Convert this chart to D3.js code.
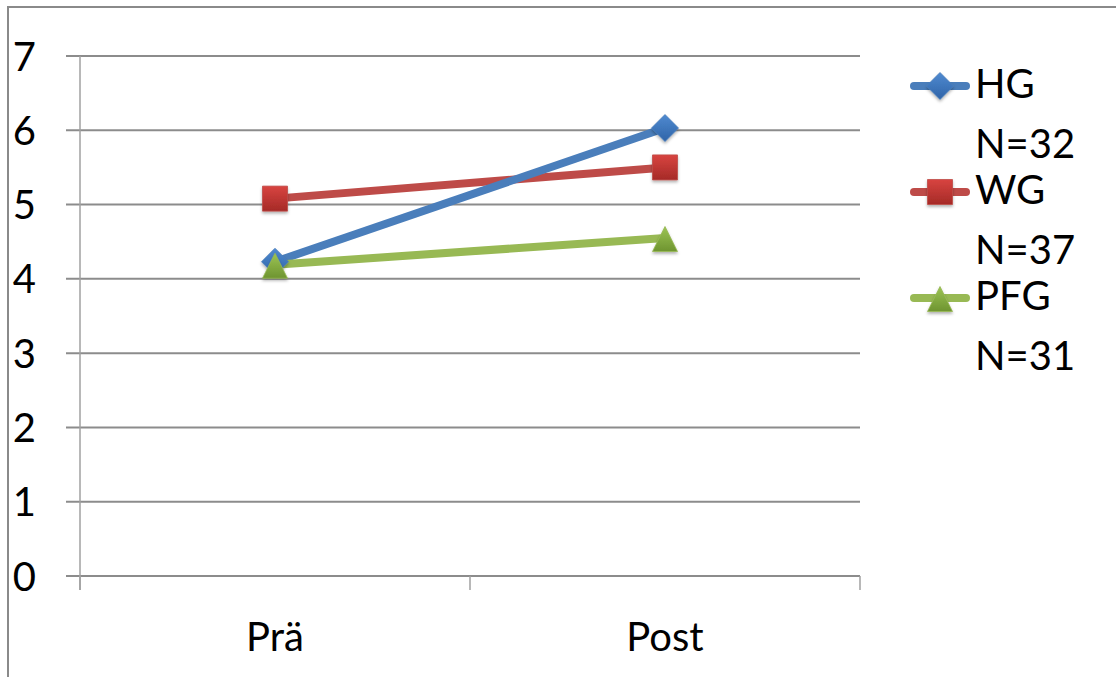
<!DOCTYPE html>
<html>
<head>
<meta charset="utf-8">
<script src="https://cdn.jsdelivr.net/npm/d3@7"></script>
<style>
  html, body { margin: 0; padding: 0; background: #fff; }
  svg { display: block; }
  text { font-family: Lato, "Open Sans", sans-serif; fill: #000; }
</style>
</head>
<body>
<svg id="chart" width="1116" height="677"></svg>
<script>
// Mean scores before and after, per group
const categories = ["Prä", "Post"];
const seriesNames = ["HG", "WG", "PFG"];
const seriesCounts = ["N=32", "N=37", "N=31"];
const hgValues = [4.23, 6.03];
const wgValues = [5.08, 5.50];
const pfgValues = [4.19, 4.55];
const yTicks = [0, 1, 2, 3, 4, 5, 6, 7];

// Marker shapes; size is the box edge in px
const diamond = { draw(ctx, s) { const r = s / 2; ctx.moveTo(0, -r); ctx.lineTo(r, 0); ctx.lineTo(0, r); ctx.lineTo(-r, 0); ctx.closePath(); } };
const square = { draw(ctx, s) { const r = s / 2; ctx.rect(-r, -r, s, s); } };
const triangle = { draw(ctx, s) { const r = s / 2; ctx.moveTo(0, -r); ctx.lineTo(r, r); ctx.lineTo(-r, r); ctx.closePath(); } };

const series = [
  { name: seriesNames[0], n: seriesCounts[0], values: hgValues, line: "#4a7ebb", light: "#4f8ad0", dark: "#2f64a8", shape: diamond, size: 27 },
  { name: seriesNames[1], n: seriesCounts[1], values: wgValues, line: "#be4b48", light: "#d84440", dark: "#a52a27", shape: square, size: 25 },
  { name: seriesNames[2], n: seriesCounts[2], values: pfgValues, line: "#98b954", light: "#9cc454", dark: "#6e9430", shape: triangle, size: 25 }
];

const svg = d3.select("#chart");
const plot = { left: 80, right: 860, top: 56, bottom: 576 };

const x = d3.scaleBand().domain(categories).range([plot.left, plot.right]).padding(0);
const y = d3.scaleLinear().domain([0, 7]).range([plot.bottom, plot.top]);
const cx = c => x(c) + x.bandwidth() / 2;

// Gradients for the markers
const defs = svg.append("defs");
series.forEach((s, i) => {
  const g = defs.append("linearGradient").attr("id", "grad" + i)
    .attr("x1", 0).attr("y1", 0).attr("x2", 0).attr("y2", 1);
  g.append("stop").attr("offset", "0%").attr("stop-color", s.light);
  g.append("stop").attr("offset", "100%").attr("stop-color", s.dark);
});
const shadow = defs.append("filter").attr("id", "shadow")
  .attr("x", "-30%").attr("y", "-30%").attr("width", "160%").attr("height", "170%");
shadow.append("feDropShadow").attr("dx", 0).attr("dy", 2).attr("stdDeviation", 1.5)
  .attr("flood-color", "#000").attr("flood-opacity", 0.3);

// Outer frame
svg.append("rect")
  .attr("x", 8).attr("y", 7).attr("width", 1200).attr("height", 800)
  .attr("fill", "none").attr("stroke", "#8a8a8a").attr("stroke-width", 2);

// Horizontal gridlines with left tick marks
svg.append("g").selectAll("line").data(yTicks).join("line")
  .attr("x1", plot.left - 14).attr("x2", plot.right)
  .attr("y1", d => y(d)).attr("y2", d => y(d))
  .attr("stroke", "#8c8c8c").attr("stroke-width", 2);

// Vertical axis line
svg.append("line")
  .attr("x1", plot.left).attr("x2", plot.left)
  .attr("y1", y(7)).attr("y2", y(0) + 14)
  .attr("stroke", "#a0a0a0").attr("stroke-width", 1.5);

// Category boundary ticks
const boundaries = categories.map(c => x(c)).concat([plot.right]);
svg.append("g").selectAll("line").data(boundaries).join("line")
  .attr("x1", d => d).attr("x2", d => d)
  .attr("y1", y(0)).attr("y2", y(0) + 14)
  .attr("stroke", "#a0a0a0").attr("stroke-width", 1.5);

// Y tick labels
svg.append("g").selectAll("text").data(yTicks).join("text")
  .attr("x", 36).attr("y", d => y(d) + 14.5)
  .attr("text-anchor", "end").attr("font-size", 40)
  .text(d => d);

// Category labels
svg.append("g").selectAll("text").data(categories).join("text")
  .attr("x", d => cx(d)).attr("y", 651)
  .attr("text-anchor", "middle").attr("font-size", 40)
  .text(d => d);

// Lines (red first so blue crosses over it, green on top)
const drawOrder = [1, 0, 2];
const lineGen = d3.line().x((d, i) => cx(categories[i])).y(d => y(d));
drawOrder.forEach(i => {
  const s = series[i];
  svg.append("path").datum(s.values)
    .attr("d", lineGen)
    .attr("fill", "none").attr("stroke", s.line)
    .attr("stroke-width", 8).attr("stroke-linejoin", "round");
});

// Markers
function drawMarker(sel, s, i, px, py) {
  sel.append("path")
    .attr("d", d3.symbol().type(s.shape).size(s.size)())
    .attr("transform", `translate(${px},${py})`)
    .attr("fill", `url(#grad${i})`)
    .attr("stroke", s.line).attr("stroke-width", 0.8)
    .attr("filter", "url(#shadow)");
}
drawOrder.forEach(i => {
  const s = series[i];
  const g = svg.append("g");
  s.values.forEach((v, k) => drawMarker(g, s, i, cx(categories[k]), y(v) + (s.shape === triangle ? 1 : 0)));
});

// Legend
const legendTop = 98, entryGap = 106, subGap = 60;
series.forEach((s, i) => {
  const base = legendTop + i * entryGap;
  const ly = base - 12;
  const g = svg.append("g");
  g.append("line")
    .attr("x1", 914).attr("x2", 966).attr("y1", ly).attr("y2", ly)
    .attr("stroke", s.line).attr("stroke-width", 8).attr("stroke-linecap", "round");
  drawMarker(g, s, i, 940, ly + (s.shape === triangle ? 1 : 0));
  g.append("text").attr("x", 975).attr("y", base).attr("font-size", 40).text(s.name);
  g.append("text").attr("x", 975).attr("y", base + subGap).attr("font-size", 40).text(s.n);
});
</script>
</body>
</html>
